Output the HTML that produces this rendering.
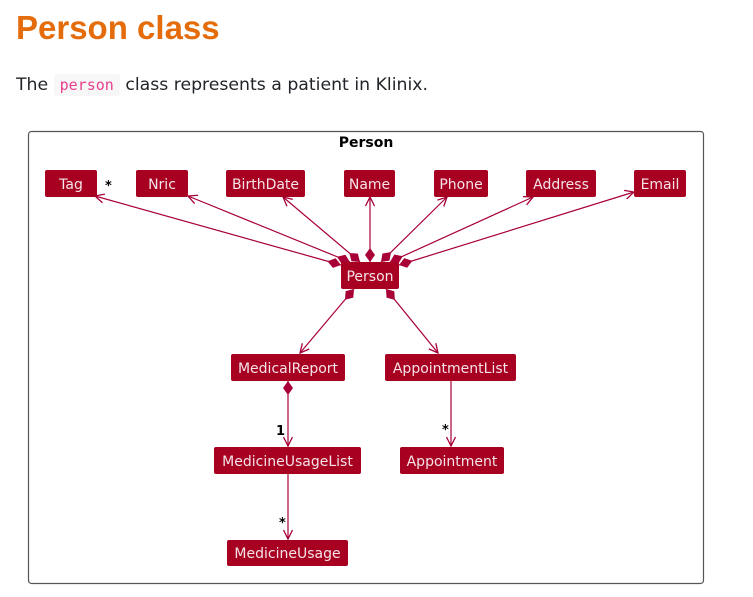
<!DOCTYPE html>
<html><head><meta charset="utf-8"><style>
body{margin:0;background:#fff;width:753px;height:597px;overflow:hidden;font-family:"DejaVu Sans","Liberation Sans",sans-serif}
h1{position:absolute;left:16px;top:9px;margin:0;font-family:"Liberation Sans",sans-serif;font-size:33px;font-weight:bold;color:#e46c0a}
p{position:absolute;left:16px;top:75px;margin:0;font-size:17.3px;color:#212529}
code{font-family:"DejaVu Sans Mono","Liberation Mono",monospace;color:#e83e8c;background:#f7f7f7;font-size:15px;padding:2px 6px;border-radius:3px}
svg{position:absolute;left:0;top:0}
</style></head><body>
<h1>Person class</h1>
<p>The <code>person</code> class represents a patient in Klinix.</p>
<svg width="753" height="597" font-family="DejaVu Sans, Liberation Sans, sans-serif">
<defs>
<marker id="d" viewBox="-1 -6 17 12" refX="0" refY="0" markerWidth="17" markerHeight="12" markerUnits="userSpaceOnUse" orient="auto"><path d="M0,0 L7,-5 L14,0 L7,5Z" fill="#a80036"/></marker>
<marker id="a" viewBox="-10 -6 12 12" refX="0" refY="0" markerWidth="12" markerHeight="12" markerUnits="userSpaceOnUse" orient="auto"><path d="M-9,-4.5 L0,0 L-9,4.5" fill="none" stroke="#a80036" stroke-width="1.3"/></marker>
</defs>
<rect x="28.5" y="131.5" width="675" height="452" rx="3" fill="#fff" stroke="#555" stroke-width="1.2"/>
<text x="366" y="147" text-anchor="middle" font-size="14" font-weight="bold">Person</text>
<g stroke="#a80036" stroke-width="1.2" fill="none" marker-end="url(#a)">
<line x1="341" y1="265" x2="95" y2="196" marker-start="url(#d)"/>
<line x1="350" y1="262" x2="188" y2="196" marker-start="url(#d)"/>
<line x1="360" y1="262" x2="283" y2="197" marker-start="url(#d)"/>
<line x1="370" y1="262" x2="370" y2="197" marker-start="url(#d)"/>
<line x1="381" y1="262" x2="447" y2="197" marker-start="url(#d)"/>
<line x1="390" y1="262" x2="533" y2="197" marker-start="url(#d)"/>
<line x1="399" y1="265" x2="634" y2="192" marker-start="url(#d)"/>
<line x1="354" y1="289" x2="300" y2="353" marker-start="url(#d)"/>
<line x1="386" y1="289" x2="438" y2="353" marker-start="url(#d)"/>
<line x1="288" y1="381" x2="288" y2="446" marker-start="url(#d)"/>
<line x1="451" y1="381" x2="451" y2="446"/>
<line x1="288" y1="474" x2="288" y2="539"/>
</g>
<g fill="#a80021">
<rect x="45" y="170" width="52" height="27" rx="2"/>
<rect x="136" y="170" width="52" height="27" rx="2"/>
<rect x="226" y="170" width="79" height="27" rx="2"/>
<rect x="344" y="170" width="51" height="27" rx="2"/>
<rect x="434" y="170" width="54" height="27" rx="2"/>
<rect x="526" y="170" width="70" height="27" rx="2"/>
<rect x="634" y="170" width="52" height="27" rx="2"/>
<rect x="341" y="262" width="58" height="27" rx="2"/>
<rect x="231" y="354" width="114" height="27" rx="2"/>
<rect x="385" y="354" width="131" height="27" rx="2"/>
<rect x="214" y="447" width="147" height="27" rx="2"/>
<rect x="400" y="447" width="104" height="27" rx="2"/>
<rect x="227" y="540" width="121" height="26" rx="2"/>
</g>
<g fill="#f4e4e8" font-size="14" text-anchor="middle">
<text x="71" y="189">Tag</text>
<text x="162" y="189">Nric</text>
<text x="265.5" y="189">BirthDate</text>
<text x="369.5" y="189">Name</text>
<text x="461" y="189">Phone</text>
<text x="561" y="189">Address</text>
<text x="660" y="189">Email</text>
<text x="370" y="281">Person</text>
<text x="288" y="373">MedicalReport</text>
<text x="450.5" y="373">AppointmentList</text>
<text x="287.5" y="466">MedicineUsageList</text>
<text x="452" y="466">Appointment</text>
<text x="287.5" y="558">MedicineUsage</text>
</g>
<g font-size="13" font-weight="bold" fill="#000">
<text x="105" y="190">*</text>
<text x="276" y="435">1</text>
<text x="442" y="434">*</text>
<text x="279" y="527">*</text>
</g>
</svg>
</body></html>
